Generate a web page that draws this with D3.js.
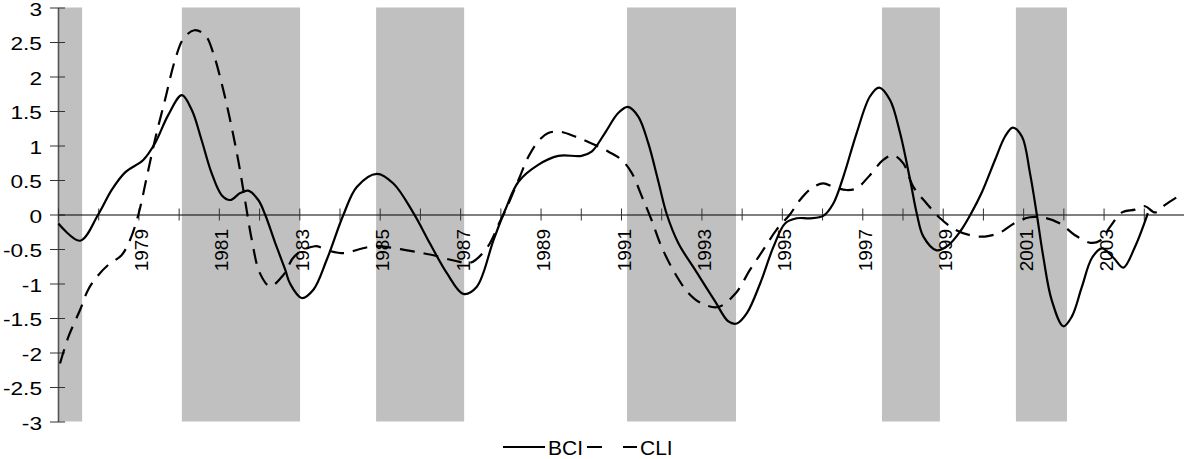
<!DOCTYPE html>
<html>
<head>
<meta charset="utf-8">
<script src="https://cdn.jsdelivr.net/npm/d3@7/dist/d3.min.js"></script>
<style>
  html, body { margin: 0; padding: 0; background: #fff; }
  svg { display: block; font-family: "Liberation Sans", Arial, sans-serif; }
</style>
</head>
<body>
<svg id="chart" width="1184" height="459"></svg>
<script>
// Business confidence indicator (BCI) and composite leading indicator (CLI), standardised
const bciYears = [1977.01,1977.55,1978.00,1978.34,1978.67,1979.12,1979.41,1979.74,1980.08,1980.33,
  1980.57,1980.82,1981.07,1981.28,1981.53,1981.73,1981.98,1982.15,1982.40,1982.65,
  1982.77,1983.06,1983.35,1983.68,1984.10,1984.43,1984.93,1985.34,1985.84,1986.25,
  1986.67,1987.08,1987.41,1987.83,1988.12,1988.45,1988.94,1989.44,1990.02,1990.27,
  1990.60,1990.93,1991.17,1991.43,1991.68,1991.93,1992.14,1992.43,1992.84,1993.34,
  1993.67,1993.88,1994.13,1994.46,1994.79,1995.08,1995.37,1995.70,1996.03,1996.28,
  1996.53,1996.86,1997.19,1997.42,1997.69,1997.94,1998.19,1998.36,1998.52,1998.85,
  1999.13,1999.43,1999.71,1999.98,2000.30,2000.55,2000.74,2000.97,2001.17,2001.34,
  2001.50,2001.71,2002.00,2002.21,2002.46,2002.71,2002.96,2003.25,2003.49,2003.78,
  2004.03,2004.10];
const bciValues = [-0.13,-0.38,0,0.36,0.61,0.79,1.03,1.44,1.73,1.51,
  1.08,0.60,0.28,0.21,0.31,0.345,0.21,0,-0.41,-0.80,
  -1.0,-1.21,-1.09,-0.66,0,0.40,0.59,0.45,0.02,-0.42,
  -0.85,-1.15,-1.05,-0.37,0.065,0.475,0.72,0.85,0.85,0.91,
  1.18,1.47,1.56,1.42,1.03,0.475,0,-0.42,-0.80,-1.26,
  -1.55,-1.58,-1.43,-1.0,-0.47,-0.13,-0.055,-0.055,-0.02,0.16,
  0.55,1.18,1.71,1.84,1.66,1.18,0.50,0,-0.32,-0.52,
  -0.45,-0.25,0.02,0.33,0.79,1.13,1.26,1.13,0.60,0,
  -0.61,-1.24,-1.62,-1.48,-1.05,-0.63,-0.49,-0.63,-0.77,-0.47,
  -0.10,0.02];

const cliYears = [1977.05,1977.26,1977.55,1977.75,1978.00,1978.25,1978.58,1978.79,1979.00,1979.21,
  1979.41,1979.66,1979.91,1980.12,1980.39,1980.66,1980.86,1981.07,1981.28,1981.48,
  1981.65,1981.82,1982.02,1982.27,1982.60,1982.89,1983.39,1983.76,1984.14,1984.51,
  1984.88,1985.38,1985.88,1986.25,1986.87,1987.25,1987.67,1987.99,1988.12,1988.45,
  1988.70,1988.94,1989.19,1989.48,1989.86,1990.27,1990.69,1991.02,1991.27,1991.52,
  1991.76,1992.01,1992.34,1992.68,1993.01,1993.42,1993.84,1994.21,1994.54,1994.87,
  1995.20,1995.45,1995.74,1996.03,1996.28,1996.61,1996.86,1997.19,1997.52,1997.77,
  1998.02,1998.27,1998.60,1998.93,1999.31,1999.68,2000.05,2000.43,2000.80,2001.17,
  2001.55,2001.92,2002.29,2002.67,2002.91,2003.16,2003.46,2003.78,2004.03,2004.28,
  2004.53,2004.90];
const cliValues = [-2.16,-1.77,-1.38,-1.09,-0.88,-0.73,-0.59,-0.37,0,0.55,
  1.08,1.66,2.24,2.55,2.67,2.60,2.34,1.90,1.37,0.79,
  0.21,-0.37,-0.85,-1.04,-0.88,-0.60,-0.46,-0.53,-0.56,-0.50,
  -0.46,-0.49,-0.54,-0.58,-0.67,-0.70,-0.48,-0.10,0.05,0.50,
  0.84,1.06,1.18,1.20,1.13,1.03,0.91,0.79,0.60,0.26,
  -0.08,-0.47,-0.85,-1.14,-1.29,-1.34,-1.15,-0.80,-0.51,-0.22,
  0,0.21,0.38,0.45,0.40,0.355,0.38,0.57,0.79,0.86,
  0.74,0.40,0.16,-0.05,-0.22,-0.30,-0.32,-0.26,-0.12,-0.04,
  -0.05,-0.13,-0.30,-0.41,-0.38,-0.18,0.03,0.07,0.12,0.03,
  0.14,0.28];

// Shaded periods (start / end, decimal years)
const shadeStarts = [1977.0, 1980.08, 1984.91, 1991.15, 1997.49, 2000.82];
const shadeEnds   = [1977.60, 1983.02, 1987.10, 1993.86, 1998.93, 2002.09];

// Axis ticks
const yTicks = [3, 2.5, 2, 1.5, 1, 0.5, 0, -0.5, -1, -1.5, -2, -2.5, -3];
const yearTicks = d3.range(1977, 2005);
const yearLabels = [1979, 1981, 1983, 1985, 1987, 1989, 1991, 1993, 1995, 1997, 1999, 2001, 2003];

const seriesNames = ["BCI", "CLI"];

const svg = d3.select("#chart");
const plotLeft = 58, plotRight = 1184, plotTop = 7.5, plotBottom = 421.5;

const x = d3.scaleLinear().domain([1977, 2005]).range([plotLeft, plotRight]);
const y = d3.scaleLinear().domain([-3, 3]).range([plotBottom, plotTop]);

// shaded bands
svg.append("g").selectAll("rect")
  .data(d3.zip(shadeStarts, shadeEnds))
  .join("rect")
  .attr("x", d => x(d[0]))
  .attr("width", d => x(d[1]) - x(d[0]))
  .attr("y", y(3))
  .attr("height", y(-3) - y(3))
  .attr("fill", "#c0c0c0");

// y axis
const yAxis = svg.append("g")
  .attr("transform", `translate(${plotLeft},0)`)
  .call(d3.axisLeft(y).tickValues(yTicks).tickSizeInner(8).tickSizeOuter(0)
    .tickFormat(d => String(d)));
yAxis.select(".domain").attr("stroke", "#555").attr("stroke-width", 1.6);
yAxis.selectAll(".tick line").attr("x1", 7).attr("stroke", "#333");
yAxis.selectAll(".tick text")
  .attr("x", 0).attr("dy", "0.42em")
  .attr("transform", "translate(-16,0) scale(1.26,1)")
  .attr("font-size", 18).attr("font-family", null).attr("fill", "#000");

// x axis through zero
const xAxis = svg.append("g")
  .attr("transform", `translate(0,${y(0)})`)
  .call(d3.axisBottom(x).tickValues(yearTicks).tickSizeInner(6).tickSizeOuter(0)
    .tickFormat(d => yearLabels.includes(d) ? String(d) : ""));
xAxis.select(".domain").attr("stroke", "#000");
xAxis.selectAll(".tick line").attr("y1", -6).attr("stroke", "#333");
xAxis.selectAll(".tick text")
  .attr("x", 0).attr("y", 0).attr("dy", null)
  .attr("text-anchor", "end")
  .attr("transform", "translate(9,14.5) rotate(-90)")
  .attr("font-size", 19).attr("font-family", null).attr("fill", "#000");

// series lines
const line = d3.line()
  .x(d => x(d[0]))
  .y(d => y(d[1]))
  .curve(d3.curveCatmullRom.alpha(0.5));

svg.append("path")
  .datum(d3.zip(bciYears, bciValues))
  .attr("d", line)
  .attr("fill", "none")
  .attr("stroke", "#000")
  .attr("stroke-width", 2.2);

svg.append("path")
  .datum(d3.zip(cliYears, cliValues))
  .attr("d", line)
  .attr("fill", "none")
  .attr("stroke", "#000")
  .attr("stroke-width", 2.2)
  .attr("stroke-dasharray", "15,9");

// legend
const legend = svg.append("g").attr("transform", "translate(0,447)");
legend.append("line").attr("x1", 503).attr("x2", 545).attr("y1", 0).attr("y2", 0)
  .attr("stroke", "#000").attr("stroke-width", 2.2);
legend.append("text").attr("x", 548).attr("y", 8).attr("font-size", 21).text(seriesNames[0]);
legend.append("line").attr("x1", 587).attr("x2", 637).attr("y1", 0).attr("y2", 0)
  .attr("stroke", "#000").attr("stroke-width", 2.2).attr("stroke-dasharray", "15,21");
legend.append("text").attr("x", 640).attr("y", 8).attr("font-size", 21).text(seriesNames[1]);
</script>
</body>
</html>
